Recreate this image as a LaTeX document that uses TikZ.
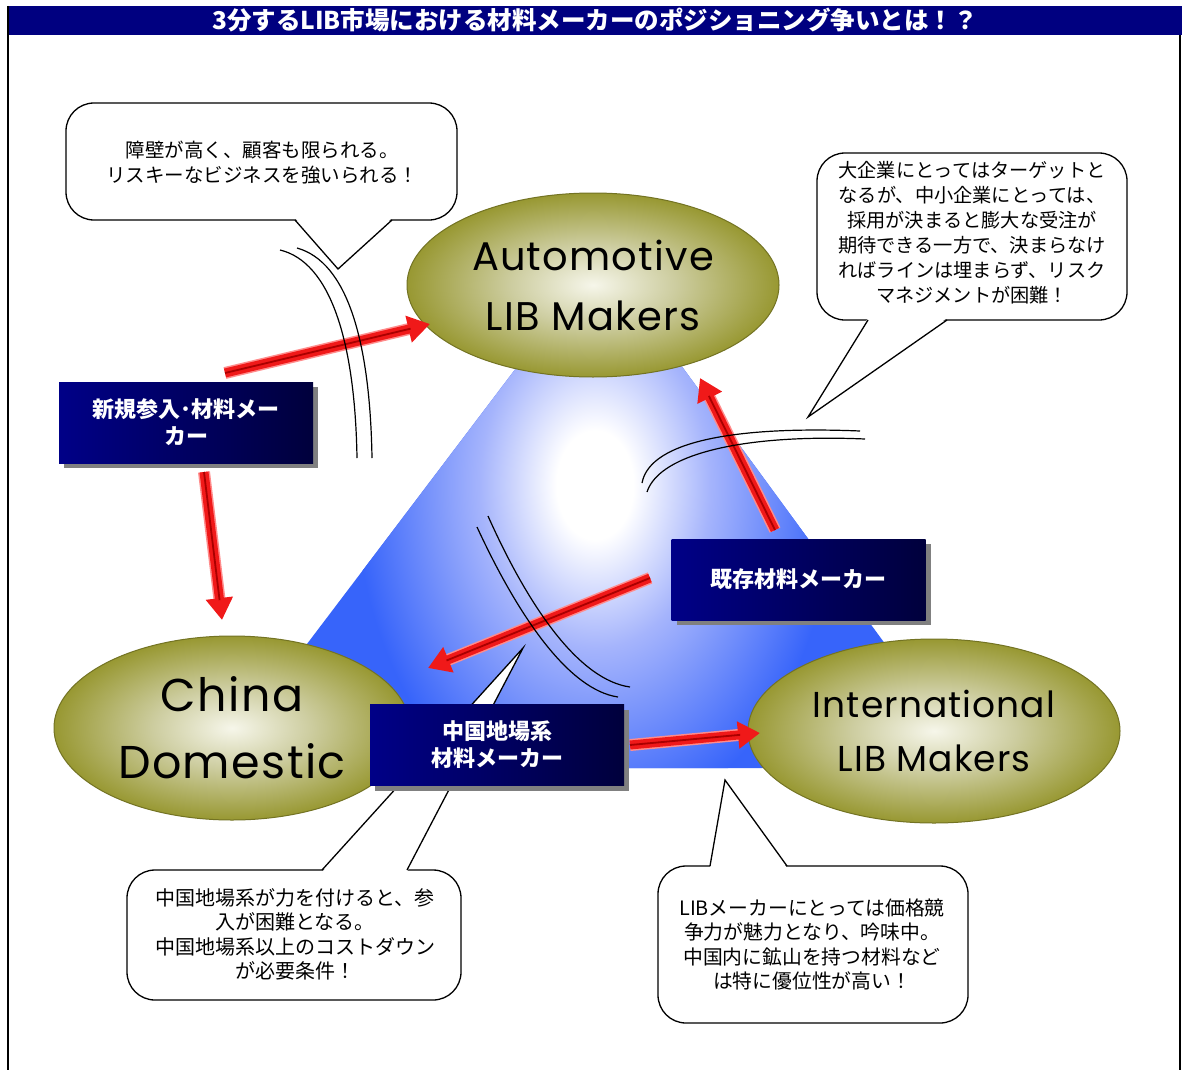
\documentclass[tikz,border=0pt]{standalone}
\usepackage{fontspec}
\newfontfamily\jp{Noto Sans CJK JP}
\newfontfamily\geo{Poppins}[LetterSpace=3]
\usetikzlibrary{shapes.geometric,arrows.meta,shadows}
\definecolor{navy}{RGB}{0,0,128}
\definecolor{boxl}{RGB}{0,0,135}
\definecolor{boxr}{RGB}{0,0,60}
\definecolor{shadowgray}{RGB}{128,128,128}
\definecolor{triblue}{RGB}{55,100,250}
\definecolor{trimid}{RGB}{165,180,252}
\definecolor{olc}{RGB}{246,246,234}
\definecolor{olm}{RGB}{205,205,160}
\definecolor{ole}{RGB}{152,152,50}
\definecolor{oldraw}{RGB}{115,115,35}
\definecolor{arrred}{RGB}{240,25,25}
\definecolor{arrpink}{RGB}{255,140,140}
\definecolor{arrdark}{RGB}{170,0,0}
\pgfdeclareradialshading{olivesh}{\pgfpoint{0bp}{0bp}}{color(0bp)=(olc); color(11bp)=(olm); color(25bp)=(ole); color(50bp)=(ole)}
\pgfdeclareradialshading{trish}{\pgfpoint{0bp}{0bp}}{color(0bp)=(white); color(4bp)=(white); color(12bp)=(trimid); color(25bp)=(triblue); color(50bp)=(triblue)}
\tikzset{
  callout/.style={draw=black, fill=white, line width=1.3pt, rounded corners=28pt},
  ptrside/.style={draw=black, line width=1.3pt, line join=miter},
  ctext/.style={align=center, font=\jp\fontsize{19.5}{24.5}\selectfont, inner sep=0pt},
  oval/.style={ellipse, shade, shading=olivesh, draw=oldraw, line width=1pt, minimum width=372pt, minimum height=184pt, inner sep=0pt, align=center},
  darkbox/.style={rectangle, left color=boxl, right color=boxr, minimum width=254pt, minimum height=81pt, inner sep=0pt, align=center, text=white,
     font=\jp\bfseries\fontsize{22}{27}\selectfont,
     drop shadow={shadow xshift=5pt, shadow yshift=-5pt, fill=shadowgray, opacity=1}},
  rarrowbase/.style={line width=12pt, draw=arrpink, shorten >=20pt},
  rarrow/.style={line width=9pt, draw=arrred, -{Triangle[width=26pt,length=22pt]}},
  rstripe/.style={line width=1.8pt, draw=arrdark, shorten >=20pt},
  barrier/.style={draw=black, line width=1.2pt}
}
\begin{document}
\begin{tikzpicture}[x=1pt,y=-1pt]
\useasboundingbox (0,0) rectangle (1182,1070);
\fill[white] (0,0) rectangle (1182,1070);
% frame and title
\fill[navy] (8,6) rectangle (1182,35);
\draw[black, line width=2pt] (8,6) -- (8,1070);
\draw[black, line width=2pt] (1180,35) -- (1180,1070);
\node[text=white, font=\jp\bfseries\fontsize{24.5}{26}\selectfont, inner sep=0pt] (title) at (595,20) {3分するLIB市場における材料メーカーのポジショニング争いとは！？};
% triangle
\coordinate (tA) at (601,256);
\coordinate (tB) at (213,768);
\coordinate (tC) at (976,768);
\begin{scope}
\clip (tA) -- (tB) -- (tC) -- cycle;
\fill[triblue] (150,200) rectangle (1050,800);
\shade[shading=trish] (595,485) ellipse [x radius=240, y radius=340];
\end{scope}
% callout 1
\draw[callout] (66,103) rectangle (457,220);
\coordinate (p1) at (338,269);
\fill[white] (295,218) -- (p1) -- (392,218) -- cycle;
\draw[ptrside] (295,220) -- (p1) -- (392,220);
\node[ctext] (t1) at (262,162.5) {障壁が高く、顧客も限られる。\\リスキーなビジネスを強いられる！};
% callout 2
\draw[callout] (817,153) rectangle (1127,320);
\coordinate (p2) at (808,417);
\fill[white] (868,318) -- (p2) -- (947,318) -- cycle;
\draw[ptrside] (868,320) -- (p2) -- (947,320);
\node[ctext, font=\jp\fontsize{19.2}{25}\selectfont] (t2) at (972,232.5) {大企業にとってはターゲットと\\なるが、中小企業にとっては、\\採用が決まると膨大な受注が\\期待できる一方で、決まらなけ\\ればラインは埋まらず、リスク\\マネジメントが困難！};
% callout 3
\draw[callout] (127,870) rectangle (461,1000);
\coordinate (p3) at (523,648);
\fill[white] (322,872) -- (p3) -- (407,872) -- cycle;
\draw[ptrside] (322,870) -- (p3) -- (407,870);
\node[ctext, font=\jp\fontsize{20}{24.4}\selectfont] (t3) at (295,934.5) {中国地場系が力を付けると、参\\入が困難となる。\\中国地場系以上のコストダウン\\が必要条件！};
% callout 4
\draw[callout] (658,866) rectangle (968,1023);
\coordinate (p4) at (725,780);
\fill[white] (710,868) -- (p4) -- (787,868) -- cycle;
\draw[ptrside] (710,866) -- (p4) -- (787,866);
\node[ctext, font=\jp\fontsize{19.8}{24.4}\selectfont] (t4) at (812,944.5) {LIBメーカーにとっては価格競\\争力が魅力となり、吟味中。\\中国内に鉱山を持つ材料など\\は特に優位性が高い！};
% ellipses
\node[oval, font=\geo\fontsize{40}{60}\selectfont] (auto) at (593,285) {Automotive\\LIB Makers};
\node[oval, minimum width=356pt, font=\geo\fontsize{46}{67}\selectfont] (china) at (232,728) {China\\Domestic};
\node[oval, font=\geo\fontsize{36}{54}\selectfont] (intl) at (934,731) {International\\LIB Makers};
% arrow end points
\coordinate (a1s) at (225,373); \coordinate (a1e) at (430,324);
\coordinate (a2s) at (204,472); \coordinate (a2e) at (222,620);
\coordinate (a3s) at (775,530); \coordinate (a3e) at (700,378);
\coordinate (a4s) at (650,578); \coordinate (a4e) at (428,668);
\coordinate (a5s) at (630,745); \coordinate (a5e) at (760,733);
\foreach \s/\e in {a1s/a1e, a2s/a2e, a3s/a3e, a4s/a4e, a5s/a5e}{
  \draw[rarrowbase] (\s) -- (\e);
  \draw[rarrow] (\s) -- (\e);
  \draw[rstripe] (\s) -- (\e);
}
% barrier arcs
\draw[barrier] (280,250) .. controls (330,262) and (355,340) .. (357,458);
\draw[barrier] (297,248) .. controls (347,262) and (370,340) .. (372,458);
\draw[barrier] (642,483) .. controls (650,440) and (740,426) .. (860,431);
\draw[barrier] (647,492) .. controls (660,452) and (750,434) .. (865,439);
\draw[barrier] (477,527) .. controls (520,620) and (570,690) .. (618,697);
\draw[barrier] (488,516) .. controls (530,610) and (580,680) .. (630,687);
% boxes
\node[darkbox] (b1) at (186,422.5) {新規参入･材料メー\\カー};
\node[darkbox] (b2) at (798.5,579.5) {既存材料メーカー};
\node[darkbox] (b3) at (497,745) {中国地場系\\材料メーカー};
\end{tikzpicture}
\end{document}
